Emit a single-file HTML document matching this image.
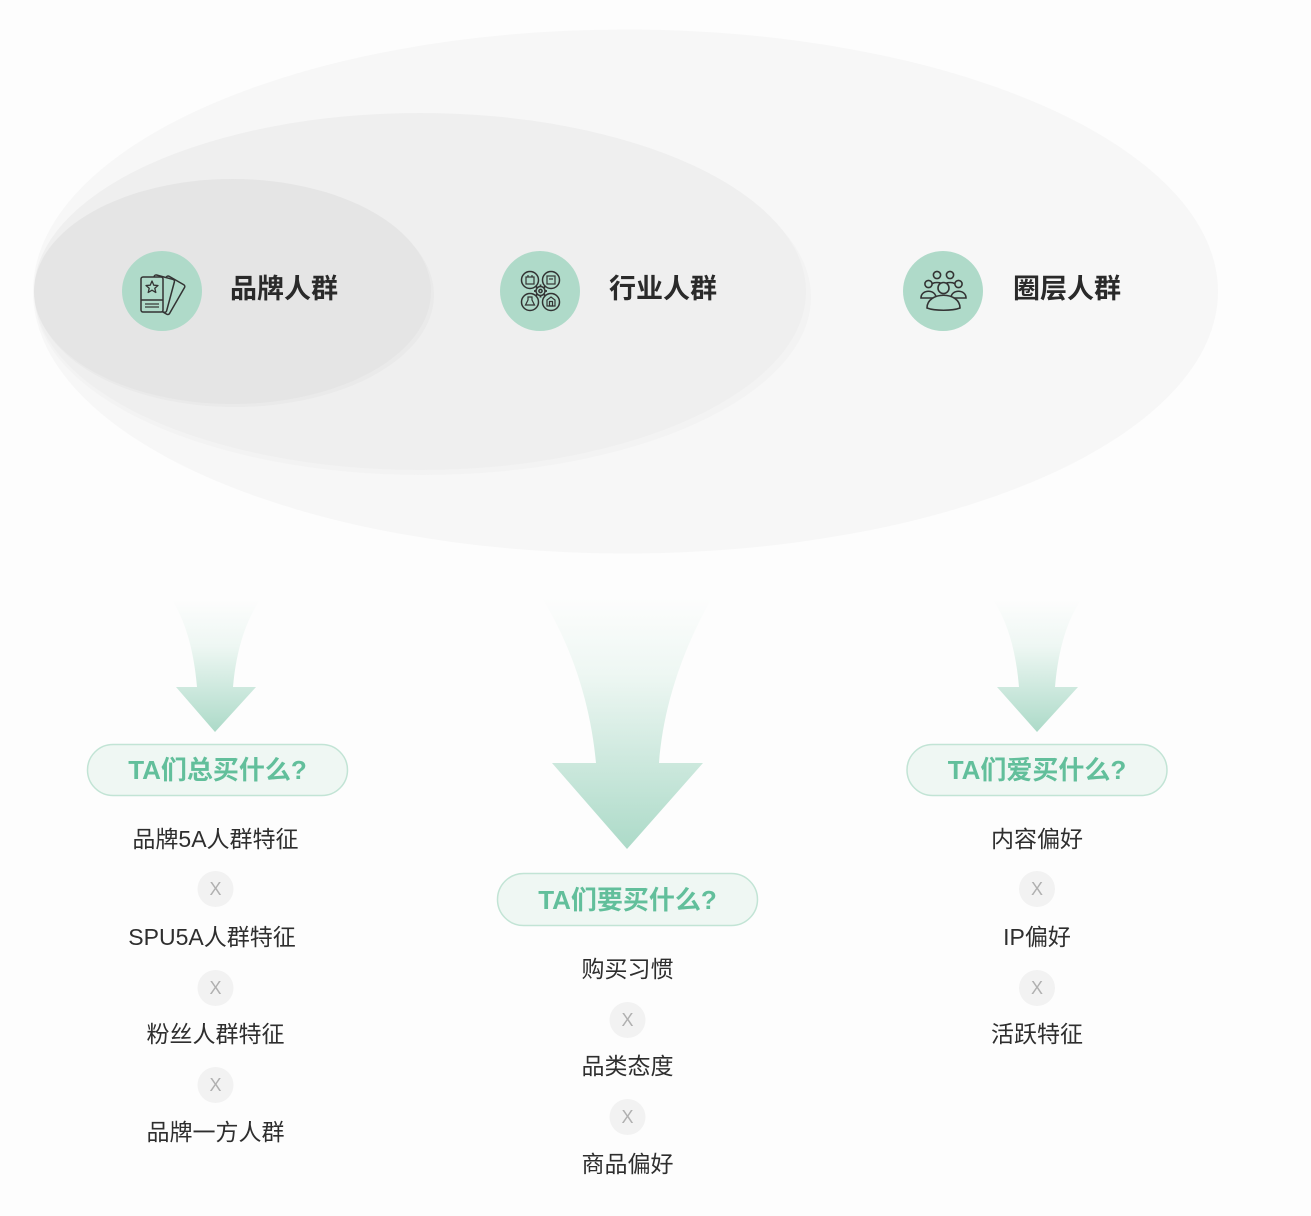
<!DOCTYPE html>
<html>
<head>
<meta charset="utf-8">
<style>
  html, body { margin: 0; padding: 0; background: #fdfdfd; }
  svg { display: block; }
  text { font-family: "Liberation Sans", "Noto Sans CJK SC", sans-serif; }
</style>
</head>
<body>
<svg width="1311" height="1216" viewBox="0 0 1311 1216" xmlns="http://www.w3.org/2000/svg">
  <defs>
    <linearGradient id="gL" x1="0" y1="600" x2="0" y2="732" gradientUnits="userSpaceOnUse">
      <stop offset="0" stop-color="#fdfdfd"/>
      <stop offset="0.35" stop-color="#eef7f3"/>
      <stop offset="1" stop-color="#acdac8"/>
    </linearGradient>
    <linearGradient id="gM" x1="0" y1="598" x2="0" y2="849" gradientUnits="userSpaceOnUse">
      <stop offset="0" stop-color="#fdfdfd"/>
      <stop offset="0.3" stop-color="#eef7f3"/>
      <stop offset="1" stop-color="#acdac8"/>
    </linearGradient>
    <linearGradient id="gR" x1="0" y1="600" x2="0" y2="732" gradientUnits="userSpaceOnUse">
      <stop offset="0" stop-color="#fdfdfd"/>
      <stop offset="0.35" stop-color="#eef7f3"/>
      <stop offset="1" stop-color="#acdac8"/>
    </linearGradient>
  </defs>

  <rect x="0" y="0" width="1311" height="1216" fill="#fdfdfd"/>

  <!-- ellipses -->
  <ellipse cx="625.5" cy="291.5" rx="592.5" ry="262" fill="#f7f7f7"/>
  <ellipse cx="423" cy="297" rx="388" ry="178" fill="#f3f3f3"/>
  <ellipse cx="420" cy="291.5" rx="386" ry="178.5" fill="#efefef"/>
  <ellipse cx="235" cy="295" rx="199" ry="112" fill="#eaeaea"/>
  <ellipse cx="232.5" cy="291.5" rx="198.5" ry="112.5" fill="#e5e5e5"/>

  <!-- icon circles -->
  <circle cx="162" cy="291" r="40" fill="#afdac9"/>
  <circle cx="540" cy="291" r="40" fill="#afdac9"/>
  <circle cx="943" cy="291" r="40" fill="#afdac9"/>

  <!-- icon 1: cards with star -->
  <g stroke="#333" stroke-width="1.5" fill="#afdac9" stroke-linejoin="round">
    <rect x="150" y="276" width="21" height="34" rx="2" transform="rotate(30 160 308)"/>
    <rect x="146" y="276" width="21" height="34" rx="2" transform="rotate(15 156 308)"/>
    <rect x="141" y="277" width="22" height="35" rx="2"/>
    <line x1="141" y1="300" x2="163" y2="300"/>
    <polygon points="152,281 153.8,285.2 158,285.5 154.8,288.3 155.8,292.5 152,290.2 148.2,292.5 149.2,288.3 146,285.5 150.2,285.2" fill="none" stroke-width="1.3"/>
    <line x1="145" y1="304" x2="159" y2="304" stroke-width="1.2"/>
    <line x1="145" y1="307" x2="159" y2="307" stroke-width="1.2"/>
  </g>

  <!-- icon 2: four circles with gear -->
  <g stroke="#333" stroke-width="1.5" fill="none">
    <circle cx="530" cy="280" r="8.5"/>
    <circle cx="551" cy="280" r="8.5"/>
    <circle cx="530" cy="302" r="8.5"/>
    <circle cx="551" cy="302" r="8.5"/>
    <circle cx="540.5" cy="291" r="4.5" fill="#afdac9"/>
    <circle cx="540.5" cy="291" r="1.6"/>
    <g stroke-width="1.8">
      <line x1="540.5" y1="284.5" x2="540.5" y2="286"/>
      <line x1="540.5" y1="296" x2="540.5" y2="297.5"/>
      <line x1="534" y1="291" x2="535.5" y2="291"/>
      <line x1="545.5" y1="291" x2="547" y2="291"/>
      <line x1="536" y1="286.5" x2="537" y2="287.5"/>
      <line x1="544" y1="294.5" x2="545" y2="295.5"/>
      <line x1="536" y1="295.5" x2="537" y2="294.5"/>
      <line x1="544" y1="287.5" x2="545" y2="286.5"/>
    </g>
    <g stroke-width="1.2">
      <rect x="526" y="277" width="8" height="7"/>
      <line x1="528" y1="277" x2="528" y2="275"/>
      <line x1="532" y1="277" x2="532" y2="275"/>
      <rect x="547" y="276" width="8" height="8"/>
      <line x1="549" y1="279" x2="553" y2="279"/>
      <path d="M528,297 L528,300 L525.5,305 L534.5,305 L532,300 L532,297 Z"/>
      <path d="M547,306 L547,300 L551,297 L555,300 L555,306 Z"/>
      <rect x="549.5" y="301.5" width="3" height="4.5"/>
    </g>
  </g>

  <!-- icon 3: group of people -->
  <g stroke="#333" stroke-width="1.6" fill="#afdac9">
    <circle cx="937" cy="275" r="3.6"/>
    <circle cx="950" cy="275" r="3.6"/>
    <path d="M930,287 C930,281 944,281 944,287"/>
    <path d="M943,287 C943,281 957,281 957,287"/>
    <circle cx="928.5" cy="284" r="3.6"/>
    <circle cx="958.5" cy="284" r="3.6"/>
    <path d="M921,298 C921,289 936,289 936,298 Z"/>
    <path d="M951,298 C951,289 966,289 966,298 Z"/>
    <circle cx="943.5" cy="288" r="5.5"/>
    <path d="M927,308 C927,291 960,291 960,308 C952,311 935,311 927,308 Z"/>
  </g>

  <!-- header labels -->
  <g font-size="27" font-weight="700" fill="#2a2a2a">
    <text x="230" y="289" dominant-baseline="central">品牌人群</text>
    <text x="609" y="289" dominant-baseline="central">行业人群</text>
    <text x="1013" y="289" dominant-baseline="central">圈层人群</text>
  </g>

  <!-- arrows -->
  <path d="M172,600 L260,600 C245,622 236,652 233,687 L256,687 L215,732 L176,687 L197,687 C194,652 186,622 172,600 Z" fill="url(#gL)"/>
  <path d="M542,598 L712,598 C682,650 663,708 659,763 L703,763 L627,849 L552,763 L596,763 C591,708 574,650 542,598 Z" fill="url(#gM)"/>
  <path d="M993,600 L1081,600 C1066,622 1058,652 1055,687 L1078,687 L1037,732 L997,687 L1019,687 C1016,652 1008,622 993,600 Z" fill="url(#gR)"/>

  <!-- pills -->
  <g fill="#eff7f3" stroke="#c2e4d5" stroke-width="1.5">
    <rect x="87.5" y="744.5" width="260" height="51" rx="25.5"/>
    <rect x="497.5" y="873.5" width="260" height="52" rx="26"/>
    <rect x="907" y="744.5" width="260" height="51" rx="25.5"/>
  </g>
  <g font-size="26" font-weight="700" fill="#62bf9b" text-anchor="middle">
    <text x="217.5" y="770" dominant-baseline="central">TA们总买什么?</text>
    <text x="627.5" y="900" dominant-baseline="central">TA们要买什么?</text>
    <text x="1037" y="770" dominant-baseline="central">TA们爱买什么?</text>
  </g>

  <!-- X circles -->
  <g fill="#f2f2f2">
    <circle cx="215.5" cy="889" r="18"/>
    <circle cx="215.5" cy="988" r="18"/>
    <circle cx="215.5" cy="1085" r="18"/>
    <circle cx="627.5" cy="1020" r="18"/>
    <circle cx="627.5" cy="1117" r="18"/>
    <circle cx="1037" cy="889" r="18"/>
    <circle cx="1037" cy="988" r="18"/>
  </g>
  <g font-size="18" fill="#b0b0b0" text-anchor="middle">
    <text x="215.5" y="889" dominant-baseline="central">X</text>
    <text x="215.5" y="988" dominant-baseline="central">X</text>
    <text x="215.5" y="1085" dominant-baseline="central">X</text>
    <text x="627.5" y="1020" dominant-baseline="central">X</text>
    <text x="627.5" y="1117" dominant-baseline="central">X</text>
    <text x="1037" y="889" dominant-baseline="central">X</text>
    <text x="1037" y="988" dominant-baseline="central">X</text>
  </g>

  <!-- list items -->
  <g font-size="23" fill="#2e2e2e" text-anchor="middle">
    <text x="215.5" y="839" dominant-baseline="central">品牌5A人群特征</text>
    <text x="212" y="937" dominant-baseline="central">SPU5A人群特征</text>
    <text x="215.5" y="1034" dominant-baseline="central">粉丝人群特征</text>
    <text x="215.5" y="1132" dominant-baseline="central">品牌一方人群</text>

    <text x="627.5" y="969" dominant-baseline="central">购买习惯</text>
    <text x="627.5" y="1066" dominant-baseline="central">品类态度</text>
    <text x="627.5" y="1164" dominant-baseline="central">商品偏好</text>

    <text x="1037" y="839" dominant-baseline="central">内容偏好</text>
    <text x="1037" y="937" dominant-baseline="central">IP偏好</text>
    <text x="1037" y="1034" dominant-baseline="central">活跃特征</text>
  </g>
</svg>
</body>
</html>
